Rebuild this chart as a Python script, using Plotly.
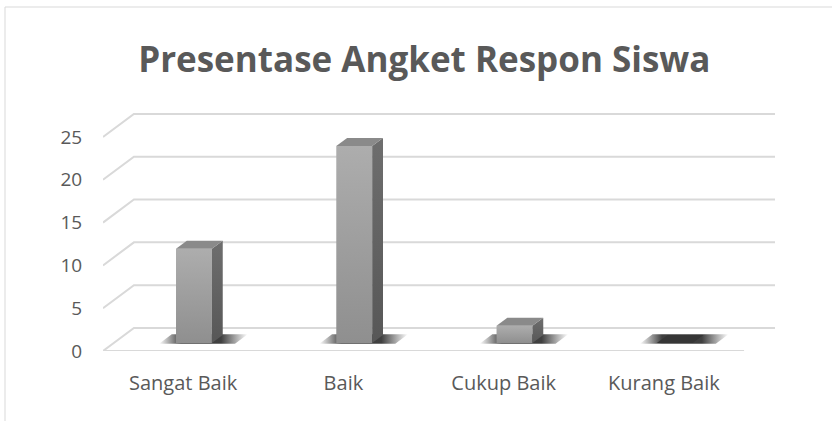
import plotly.graph_objects as go

categories = ["Sangat Baik", "Baik", "Cukup Baik", "Kurang Baik"]
values = [11, 23, 2, 0]
y_ticks = [0, 5, 10, 15, 20, 25]
title_text = "Presentase Angket Respon Siswa"

# 3D look parameters (style only)
DX = 0.193      # full floor depth, x offset in category units
DY = 2.69       # full floor depth, y offset in value units
D_FRONT = 0.35  # bar front face depth fraction
D_BACK = 0.70   # bar back face depth fraction
HALF_W = 0.112  # half bar width in category units

TEXT = "#595959"
GRID = "#d9d9d9"
FONT = "Open Sans"

fig = go.Figure()

n = len(categories)
# gridlines: back wall + left diagonal, and front floor edge
gx, gy = [], []
for v in y_ticks:
    gx += [-0.5, -0.5 + DX, n - 0.5 + DX, None]
    gy += [v, v + DY, v + DY, None]
gx += [-0.5, n - 0.5, None]
gy += [0, 0, None]
fig.add_trace(go.Scatter(x=gx, y=gy, mode="lines", line=dict(color=GRID, width=2),
                         hoverinfo="skip", showlegend=False))


def poly(xs, ys, fill, gradient=None, opacity=1.0):
    kw = dict(x=xs + [xs[0]], y=ys + [ys[0]], mode="lines", fill="toself",
              line=dict(width=0, color="rgba(0,0,0,0)"), hoverinfo="skip",
              showlegend=False, opacity=opacity)
    if gradient is not None:
        kw["fillgradient"] = gradient
    else:
        kw["fillcolor"] = fill
    fig.add_trace(go.Scatter(**kw))


ox, oy = D_FRONT * DX, D_FRONT * DY
bx, by = D_BACK * DX, D_BACK * DY
ddx, ddy = bx - ox, by - oy

for i, v in enumerate(values):
    xl = i - HALF_W + ox
    xr = i + HALF_W + ox
    yb = oy
    yt = v + oy
    # soft shadow on the floor
    sd0, sd1 = D_FRONT - 0.03, D_BACK + 0.03
    sx0 = i - HALF_W - 0.10
    sx1 = i + HALF_W + 0.15
    poly([sx0 + sd0 * DX, sx1 + sd0 * DX, sx1 + sd1 * DX, sx0 + sd1 * DX],
         [sd0 * DY, sd0 * DY, sd1 * DY, sd1 * DY], None,
         gradient=dict(type="horizontal",
                       colorscale=[[0, "rgba(30,30,30,0)"], [0.25, "rgba(30,30,30,0.85)"],
                                   [0.7, "rgba(30,30,30,0.85)"], [1, "rgba(30,30,30,0)"]]))
    if v > 0:
        # front face
        poly([xl, xr, xr, xl], [yb, yb, yt, yt], None,
             gradient=dict(type="vertical",
                           colorscale=[[0, "#8f8f8f"], [1, "#adadad"]]))
        # side face
        poly([xr, xr + ddx, xr + ddx, xr], [yb, yb + ddy, yt + ddy, yt], None,
             gradient=dict(type="vertical",
                           colorscale=[[0, "#575757"], [1, "#6e6e6e"]]))
        # top face
        poly([xl, xr, xr + ddx, xl + ddx], [yt, yt, yt + ddy, yt + ddy], "#8a8a8a")
    else:
        poly([xl, xr, xr + ddx, xl + ddx], [yt, yt, yt + ddy, yt + ddy], "#363636")

fig.update_layout(
    width=832, height=421,
    margin=dict(l=103, r=57, t=113, b=70),
    paper_bgcolor="white", plot_bgcolor="white",
    title=dict(text="<b>" + title_text + "</b>", x=0.51, xanchor="center",
               yref="container", y=1 - 60 / 421, yanchor="middle",
               font=dict(family=FONT, size=35, color=TEXT)),
    font=dict(family=FONT, color=TEXT, size=18),
    xaxis=dict(range=[-0.5, n - 0.5 + DX], tickmode="array",
               tickvals=list(range(n)), ticktext=categories,
               showgrid=False, zeroline=False, showline=False,
               ticks="outside", ticklen=14, tickcolor="rgba(0,0,0,0)",
               tickfont=dict(family=FONT, size=20, color=TEXT), fixedrange=True),
    yaxis=dict(range=[0, 27.8], tickmode="array", tickvals=y_ticks,
               showgrid=False, zeroline=False, showline=False,
               ticks="outside", ticklen=16, tickcolor="rgba(0,0,0,0)",
               tickfont=dict(family=FONT, size=19, color=TEXT), fixedrange=True),
    shapes=[dict(type="rect", xref="paper", yref="paper",
                 x0=(5 - 103) / 672, x1=1.3, y0=-0.8, y1=(351 - 7) / 238,
                 line=dict(color=GRID, width=1), fillcolor="rgba(0,0,0,0)",
                 layer="below")],
)

fig.write_html("out.html", config={"displayModeBar": False},
               post_script="document.body.style.margin='0';")
